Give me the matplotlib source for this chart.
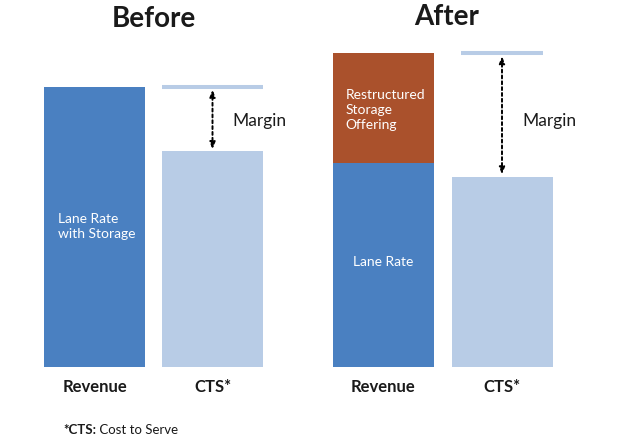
import matplotlib
matplotlib.use("Agg")
import matplotlib.pyplot as plt

# ---- data ----
panels = ["Before", "After"]
categories = ["Revenue", "CTS*"]
lane_rate = [100, 73]          # blue part of revenue bar (Before, After)
storage_offering = [0, 39]     # orange part (After only)
cts = [77, 68]                 # cost to serve
inner_labels_lane = ["Lane Rate\nwith Storage", "Lane Rate"]
storage_label = "Restructured\nStorage\nOffering"
margin_label = "Margin"
footnote_bold = "*CTS:"
footnote_rest = " Cost to Serve"

# ---- style ----
BLUE = "#4a80c1"
LIGHT = "#b8cce6"
ORANGE = "#aa512c"
FONT = "Lato"
plt.rcParams["font.family"] = [FONT, "DejaVu Sans"]

W, H = 620, 437
fig = plt.figure(figsize=(W / 100, H / 100), dpi=100)
ax = fig.add_axes([0, 0, 1, 1])
px_per_unit = 2.8
base_px = 70  # px from bottom where value 0 sits
ax.set_xlim(0, W)
ax.set_ylim(-base_px / px_per_unit, (H - base_px) / px_per_unit)
ax.axis("off")

rev_x = [94.5, 383.5]
cts_x = [212.5, 502.0]
bar_w = 101
line_w = [101, 82]
title_x = [154, 447]

for i in range(2):
    total = lane_rate[i] + storage_offering[i]
    ax.bar(rev_x[i], lane_rate[i], width=bar_w, color=BLUE, linewidth=0)
    if storage_offering[i] > 0:
        ax.bar(rev_x[i], storage_offering[i], bottom=lane_rate[i], width=bar_w,
               color=ORANGE, linewidth=0)
    ax.bar(cts_x[i], cts[i], width=bar_w, color=LIGHT, linewidth=0)
    # reference line at revenue level
    ax.hlines(total, cts_x[i] - line_w[i] / 2, cts_x[i] + line_w[i] / 2,
              color=LIGHT, linewidth=2.9)
    # margin arrow
    ax.annotate("", xy=(cts_x[i], total - 1.0), xytext=(cts_x[i], cts[i] + 0.8),
                arrowprops=dict(arrowstyle="<|-|>,head_length=0.4,head_width=0.16",
                                color="black", linestyle=(0, (1.5, 1.5)),
                                linewidth=1.4, shrinkA=0, shrinkB=0))
    ax.text(cts_x[i] + 20, 88.0, margin_label, fontsize=12.5, color="#1a1a1a",
            ha="left", va="center")
    # titles
    ax.text(title_x[i], 130.9 - 6 / px_per_unit * (1 if i == 0 else 0.6), panels[i],
            fontsize=20, fontweight="bold", color="#1a1a1a", ha="center", va="top")
    # category labels
    for xx, lab in zip([rev_x[i], cts_x[i]], categories):
        ax.text(xx, -19.5 / px_per_unit, lab, fontsize=12, fontweight="bold",
                color="#1a1a1a", ha="center", va="center")

# inner labels
ax.text(rev_x[0] - 37, 50.2, inner_labels_lane[0], fontsize=10, color="white",
        ha="left", va="center", linespacing=1.3)
ax.text(rev_x[1], 37.5, inner_labels_lane[1], fontsize=10, color="white",
        ha="center", va="center")
ax.text(rev_x[1] - 38, lane_rate[1] + storage_offering[1] - 20.2, storage_label,
        fontsize=10, color="white", ha="left", va="center", linespacing=1.3)

# footnote
fy = -63 / px_per_unit
t1 = ax.text(63, fy, footnote_bold, fontsize=9.5, fontweight="bold", color="#1a1a1a",
             ha="left", va="center")
fig.canvas.draw()
bb = t1.get_window_extent(renderer=fig.canvas.get_renderer())
x_end = ax.transData.inverted().transform((bb.x1, bb.y0))[0]
ax.text(x_end, fy, footnote_rest, fontsize=9.5, color="#1a1a1a",
        ha="left", va="center")

fig.savefig("out.png", dpi=100)
